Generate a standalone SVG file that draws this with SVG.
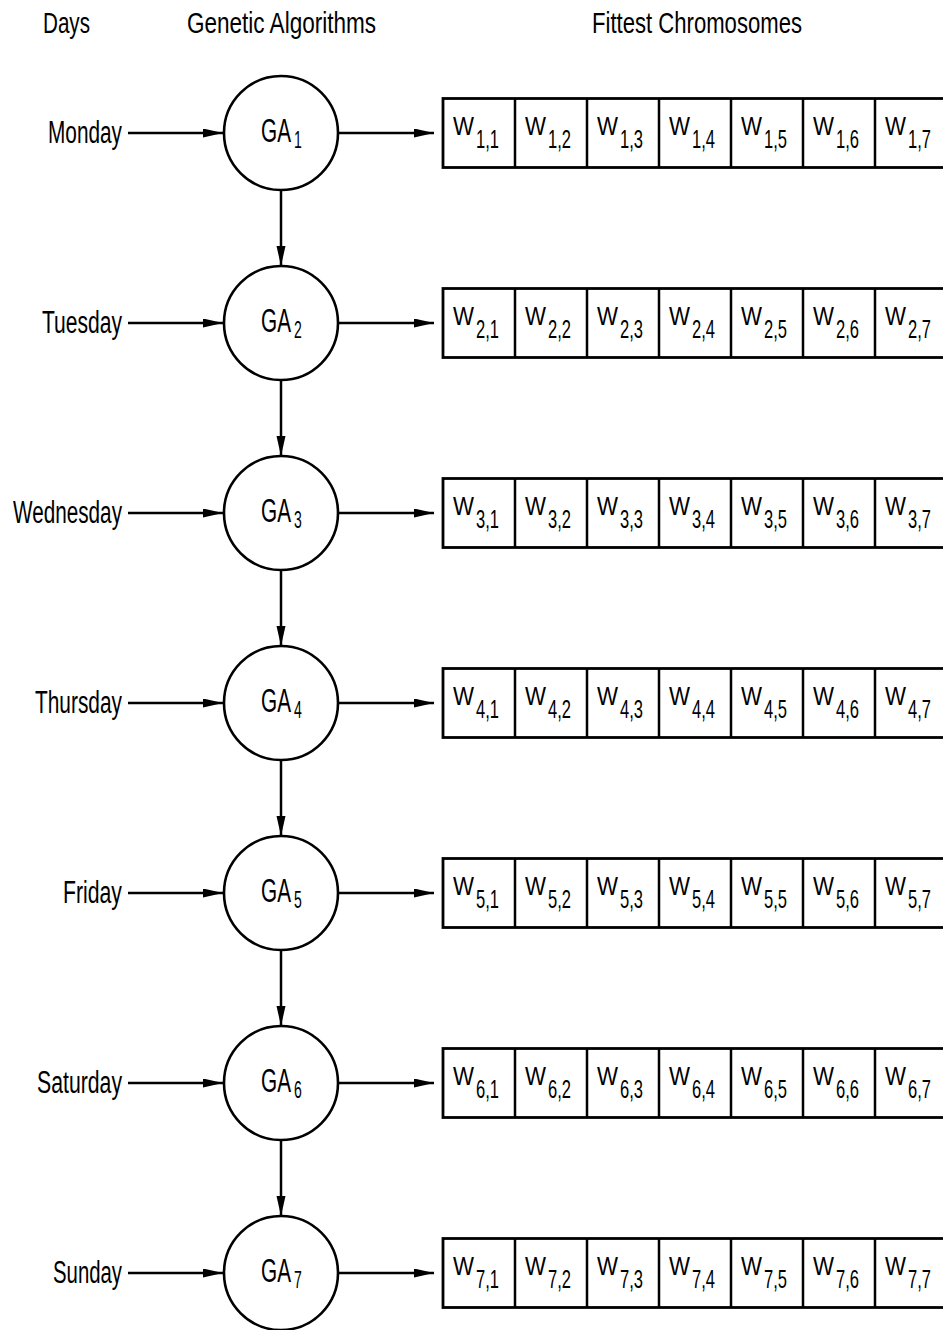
<svg xmlns="http://www.w3.org/2000/svg" width="943" height="1330" viewBox="0 0 943 1330">
  <style>
    text { font-family: "Liberation Sans", Arial, sans-serif; fill: #000; }
    .hdr { font-size: 30px; }
    .day { font-size: 31px; text-anchor: end; }
    .ga { font-size: 34px; }
    .gs { font-size: 23px; }
    .w { font-size: 25px; }
    .ws { font-size: 25px; }
    .ln { stroke: #000; stroke-width: 2.5; fill: none; }
    .node { stroke: #000; stroke-width: 2.6; fill: #fff; }
    .box { stroke: #000; stroke-width: 2.8; fill: #fff; }
  </style>
  <defs>
    <marker id="arrow" markerUnits="userSpaceOnUse" markerWidth="20" markerHeight="10" refX="20" refY="4.5" orient="auto">
      <path d="M0,0 L20,4.5 L0,9 z" fill="#000"/>
    </marker>
    <!-- one chromosome row: seven cells, open to the right -->
    <g id="cells">
      <rect class="box" x="443" y="-34.5" width="520" height="69"/>
      <path class="ln" stroke-width="2.8" d="M515,-34.5V34.5 M587,-34.5V34.5 M659,-34.5V34.5 M731,-34.5V34.5 M803,-34.5V34.5 M875,-34.5V34.5"/>
      <text class="w" x="453" y="2" textLength="21" lengthAdjust="spacingAndGlyphs">W</text>
      <text class="w" x="525" y="2" textLength="21" lengthAdjust="spacingAndGlyphs">W</text>
      <text class="w" x="597" y="2" textLength="21" lengthAdjust="spacingAndGlyphs">W</text>
      <text class="w" x="669" y="2" textLength="21" lengthAdjust="spacingAndGlyphs">W</text>
      <text class="w" x="741" y="2" textLength="21" lengthAdjust="spacingAndGlyphs">W</text>
      <text class="w" x="813" y="2" textLength="21" lengthAdjust="spacingAndGlyphs">W</text>
      <text class="w" x="885" y="2" textLength="21" lengthAdjust="spacingAndGlyphs">W</text>
    </g>
  </defs>

  <rect width="943" height="1330" fill="#fff"/>

  <!-- column headings -->
  <g id="headings">
    <text class="hdr" x="43" y="33" textLength="47" lengthAdjust="spacingAndGlyphs">Days</text>
    <text class="hdr" x="187" y="33" textLength="189" lengthAdjust="spacingAndGlyphs">Genetic Algorithms</text>
    <text class="hdr" x="592" y="33" textLength="210" lengthAdjust="spacingAndGlyphs">Fittest Chromosomes</text>
  </g>

  <!-- day labels -->
  <g id="days">
    <text id="day1" class="day" x="122" y="143" textLength="74" lengthAdjust="spacingAndGlyphs">Monday</text>
    <text id="day2" class="day" x="122" y="333" textLength="80" lengthAdjust="spacingAndGlyphs">Tuesday</text>
    <text id="day3" class="day" x="122" y="523" textLength="109" lengthAdjust="spacingAndGlyphs">Wednesday</text>
    <text id="day4" class="day" x="122" y="713" textLength="87" lengthAdjust="spacingAndGlyphs">Thursday</text>
    <text id="day5" class="day" x="122" y="903" textLength="59" lengthAdjust="spacingAndGlyphs">Friday</text>
    <text id="day6" class="day" x="122" y="1093" textLength="85" lengthAdjust="spacingAndGlyphs">Saturday</text>
    <text id="day7" class="day" x="122" y="1283" textLength="69" lengthAdjust="spacingAndGlyphs">Sunday</text>
  </g>

  <!-- connectors -->
  <g id="connectors" class="ln" marker-end="url(#arrow)">
    <line x1="128" y1="133" x2="223" y2="133"/>
    <line x1="128" y1="323" x2="223" y2="323"/>
    <line x1="128" y1="513" x2="223" y2="513"/>
    <line x1="128" y1="703" x2="223" y2="703"/>
    <line x1="128" y1="893" x2="223" y2="893"/>
    <line x1="128" y1="1083" x2="223" y2="1083"/>
    <line x1="128" y1="1273" x2="223" y2="1273"/>

    <line x1="339" y1="133" x2="434" y2="133"/>
    <line x1="339" y1="323" x2="434" y2="323"/>
    <line x1="339" y1="513" x2="434" y2="513"/>
    <line x1="339" y1="703" x2="434" y2="703"/>
    <line x1="339" y1="893" x2="434" y2="893"/>
    <line x1="339" y1="1083" x2="434" y2="1083"/>
    <line x1="339" y1="1273" x2="434" y2="1273"/>

    <line x1="281" y1="190" x2="281" y2="266"/>
    <line x1="281" y1="380" x2="281" y2="456"/>
    <line x1="281" y1="570" x2="281" y2="646"/>
    <line x1="281" y1="760" x2="281" y2="836"/>
    <line x1="281" y1="950" x2="281" y2="1026"/>
    <line x1="281" y1="1140" x2="281" y2="1216"/>
  </g>

  <!-- genetic algorithm nodes: condensed label with a lowered index -->
  <g id="ga1"><circle class="node" cx="281" cy="133" r="57"/><text class="ga" transform="translate(261,142) scale(0.61,1)">GA<tspan class="gs" x="54" y="6">1</tspan></text></g>
  <g id="ga2"><circle class="node" cx="281" cy="323" r="57"/><text class="ga" transform="translate(261,332) scale(0.61,1)">GA<tspan class="gs" x="54" y="6">2</tspan></text></g>
  <g id="ga3"><circle class="node" cx="281" cy="513" r="57"/><text class="ga" transform="translate(261,522) scale(0.61,1)">GA<tspan class="gs" x="54" y="6">3</tspan></text></g>
  <g id="ga4"><circle class="node" cx="281" cy="703" r="57"/><text class="ga" transform="translate(261,712) scale(0.61,1)">GA<tspan class="gs" x="54" y="6">4</tspan></text></g>
  <g id="ga5"><circle class="node" cx="281" cy="893" r="57"/><text class="ga" transform="translate(261,902) scale(0.61,1)">GA<tspan class="gs" x="54" y="6">5</tspan></text></g>
  <g id="ga6"><circle class="node" cx="281" cy="1083" r="57"/><text class="ga" transform="translate(261,1092) scale(0.61,1)">GA<tspan class="gs" x="54" y="6">6</tspan></text></g>
  <g id="ga7"><circle class="node" cx="281" cy="1273" r="57"/><text class="ga" transform="translate(261,1282) scale(0.61,1)">GA<tspan class="gs" x="54" y="6">7</tspan></text></g>

  <!-- fittest chromosome rows -->
  <g id="chromo1" transform="translate(0,133)">
    <use href="#cells"/>
    <text class="ws" x="476" y="15" textLength="23" lengthAdjust="spacingAndGlyphs">1,1</text>
    <text class="ws" x="548" y="15" textLength="23" lengthAdjust="spacingAndGlyphs">1,2</text>
    <text class="ws" x="620" y="15" textLength="23" lengthAdjust="spacingAndGlyphs">1,3</text>
    <text class="ws" x="692" y="15" textLength="23" lengthAdjust="spacingAndGlyphs">1,4</text>
    <text class="ws" x="764" y="15" textLength="23" lengthAdjust="spacingAndGlyphs">1,5</text>
    <text class="ws" x="836" y="15" textLength="23" lengthAdjust="spacingAndGlyphs">1,6</text>
    <text class="ws" x="908" y="15" textLength="23" lengthAdjust="spacingAndGlyphs">1,7</text>
  </g>
  <g id="chromo2" transform="translate(0,323)">
    <use href="#cells"/>
    <text class="ws" x="476" y="15" textLength="23" lengthAdjust="spacingAndGlyphs">2,1</text>
    <text class="ws" x="548" y="15" textLength="23" lengthAdjust="spacingAndGlyphs">2,2</text>
    <text class="ws" x="620" y="15" textLength="23" lengthAdjust="spacingAndGlyphs">2,3</text>
    <text class="ws" x="692" y="15" textLength="23" lengthAdjust="spacingAndGlyphs">2,4</text>
    <text class="ws" x="764" y="15" textLength="23" lengthAdjust="spacingAndGlyphs">2,5</text>
    <text class="ws" x="836" y="15" textLength="23" lengthAdjust="spacingAndGlyphs">2,6</text>
    <text class="ws" x="908" y="15" textLength="23" lengthAdjust="spacingAndGlyphs">2,7</text>
  </g>
  <g id="chromo3" transform="translate(0,513)">
    <use href="#cells"/>
    <text class="ws" x="476" y="15" textLength="23" lengthAdjust="spacingAndGlyphs">3,1</text>
    <text class="ws" x="548" y="15" textLength="23" lengthAdjust="spacingAndGlyphs">3,2</text>
    <text class="ws" x="620" y="15" textLength="23" lengthAdjust="spacingAndGlyphs">3,3</text>
    <text class="ws" x="692" y="15" textLength="23" lengthAdjust="spacingAndGlyphs">3,4</text>
    <text class="ws" x="764" y="15" textLength="23" lengthAdjust="spacingAndGlyphs">3,5</text>
    <text class="ws" x="836" y="15" textLength="23" lengthAdjust="spacingAndGlyphs">3,6</text>
    <text class="ws" x="908" y="15" textLength="23" lengthAdjust="spacingAndGlyphs">3,7</text>
  </g>
  <g id="chromo4" transform="translate(0,703)">
    <use href="#cells"/>
    <text class="ws" x="476" y="15" textLength="23" lengthAdjust="spacingAndGlyphs">4,1</text>
    <text class="ws" x="548" y="15" textLength="23" lengthAdjust="spacingAndGlyphs">4,2</text>
    <text class="ws" x="620" y="15" textLength="23" lengthAdjust="spacingAndGlyphs">4,3</text>
    <text class="ws" x="692" y="15" textLength="23" lengthAdjust="spacingAndGlyphs">4,4</text>
    <text class="ws" x="764" y="15" textLength="23" lengthAdjust="spacingAndGlyphs">4,5</text>
    <text class="ws" x="836" y="15" textLength="23" lengthAdjust="spacingAndGlyphs">4,6</text>
    <text class="ws" x="908" y="15" textLength="23" lengthAdjust="spacingAndGlyphs">4,7</text>
  </g>
  <g id="chromo5" transform="translate(0,893)">
    <use href="#cells"/>
    <text class="ws" x="476" y="15" textLength="23" lengthAdjust="spacingAndGlyphs">5,1</text>
    <text class="ws" x="548" y="15" textLength="23" lengthAdjust="spacingAndGlyphs">5,2</text>
    <text class="ws" x="620" y="15" textLength="23" lengthAdjust="spacingAndGlyphs">5,3</text>
    <text class="ws" x="692" y="15" textLength="23" lengthAdjust="spacingAndGlyphs">5,4</text>
    <text class="ws" x="764" y="15" textLength="23" lengthAdjust="spacingAndGlyphs">5,5</text>
    <text class="ws" x="836" y="15" textLength="23" lengthAdjust="spacingAndGlyphs">5,6</text>
    <text class="ws" x="908" y="15" textLength="23" lengthAdjust="spacingAndGlyphs">5,7</text>
  </g>
  <g id="chromo6" transform="translate(0,1083)">
    <use href="#cells"/>
    <text class="ws" x="476" y="15" textLength="23" lengthAdjust="spacingAndGlyphs">6,1</text>
    <text class="ws" x="548" y="15" textLength="23" lengthAdjust="spacingAndGlyphs">6,2</text>
    <text class="ws" x="620" y="15" textLength="23" lengthAdjust="spacingAndGlyphs">6,3</text>
    <text class="ws" x="692" y="15" textLength="23" lengthAdjust="spacingAndGlyphs">6,4</text>
    <text class="ws" x="764" y="15" textLength="23" lengthAdjust="spacingAndGlyphs">6,5</text>
    <text class="ws" x="836" y="15" textLength="23" lengthAdjust="spacingAndGlyphs">6,6</text>
    <text class="ws" x="908" y="15" textLength="23" lengthAdjust="spacingAndGlyphs">6,7</text>
  </g>
  <g id="chromo7" transform="translate(0,1273)">
    <use href="#cells"/>
    <text class="ws" x="476" y="15" textLength="23" lengthAdjust="spacingAndGlyphs">7,1</text>
    <text class="ws" x="548" y="15" textLength="23" lengthAdjust="spacingAndGlyphs">7,2</text>
    <text class="ws" x="620" y="15" textLength="23" lengthAdjust="spacingAndGlyphs">7,3</text>
    <text class="ws" x="692" y="15" textLength="23" lengthAdjust="spacingAndGlyphs">7,4</text>
    <text class="ws" x="764" y="15" textLength="23" lengthAdjust="spacingAndGlyphs">7,5</text>
    <text class="ws" x="836" y="15" textLength="23" lengthAdjust="spacingAndGlyphs">7,6</text>
    <text class="ws" x="908" y="15" textLength="23" lengthAdjust="spacingAndGlyphs">7,7</text>
  </g>
</svg>
